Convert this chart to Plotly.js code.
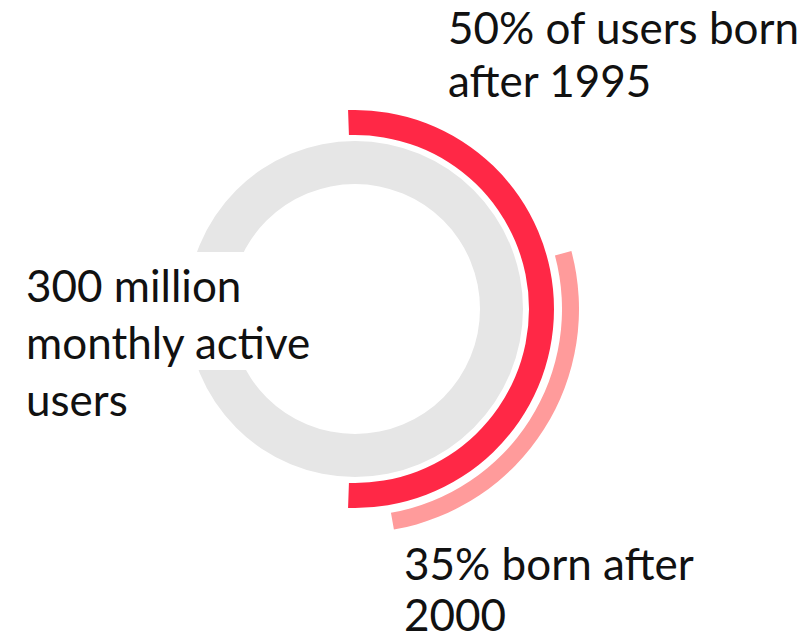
<!DOCTYPE html>
<html>
<head>
<meta charset="utf-8">
<script src="https://cdn.plot.ly/plotly-3.0.1.min.js"></script>
<style>html,body{margin:0;padding:0;background:#fff;}#chart{width:810px;height:643px;}</style>
</head>
<body>
<div id="chart"></div>
<script>
// ---- data ----
const ringNames   = ['Monthly active users', 'Born after 1995', 'Born after 2000'];
const arcSpanDeg  = [360, 184, 95];    // angular extent of each arc
const arcStartDeg = [90, 92, 15];      // where each arc starts (deg, counter-clockwise from east), drawn clockwise
const labelLines  = [
  ['300 million', 'monthly active', 'users'],
  ['50% of users born', 'after 1995'],
  ['35% born after', '2000']
];

// ---- styling / placement ----
const ringColors = ['#e6e6e6', '#ff2846', '#ff9b9b'];
const ringInner  = [125, 174, 207];
const ringThick  = [43, 25, 17];
const labelX     = [25, 447, 403];   // px from left
const labelY0    = [285, 27, 563];   // px from top, centre of first line
const lineGap    = [57, 53, 51];

const traces = ringNames.map((name, i) => ({
  type: 'barpolar',
  name: name,
  base: [ringInner[i]],
  r: [ringThick[i]],
  theta: [arcStartDeg[i] - arcSpanDeg[i] / 2],
  width: [arcSpanDeg[i]],
  marker: {color: ringColors[i], line: {width: 0}},
  hoverinfo: 'skip',
  showlegend: false
}));

const W = 810, H = 643, cx = 355, cy = 309, R = 230;
const font = {family: 'Lato, "Open Sans", sans-serif', size: 44, color: '#111111'};

const annotations = [];
labelLines.forEach((lines, i) => {
  lines.forEach((t, j) => {
    annotations.push({
      x: labelX[i] / W, y: 1 - (labelY0[i] + j * lineGap[i]) / H,
      text: t, xref: 'paper', yref: 'paper', xanchor: 'left', yanchor: 'middle',
      align: 'left', showarrow: false, font: font, borderpad: 0
    });
  });
});

const layout = {
  width: W, height: H,
  margin: {l: 0, r: 0, t: 0, b: 0},
  paper_bgcolor: '#ffffff',
  showlegend: false,
  polar: {
    domain: {x: [(cx - R) / W, (cx + R) / W], y: [(H - cy - R) / H, (H - cy + R) / H]},
    bgcolor: 'rgba(0,0,0,0)',
    hole: 0,
    barmode: 'overlay',
    radialaxis: {range: [0, R], visible: false, showgrid: false},
    angularaxis: {visible: false, showgrid: false, rotation: 0, direction: 'counterclockwise'}
  },
  shapes: [{
    type: 'rect', xref: 'paper', yref: 'paper', layer: 'above',
    x0: 0, x1: 320 / W, y0: 1 - 370 / H, y1: 1 - 252 / H,
    fillcolor: '#ffffff', line: {width: 0}
  }],
  annotations: annotations
};

Plotly.newPlot('chart', traces, layout, {displayModeBar: false, staticPlot: true});
</script>
</body>
</html>
